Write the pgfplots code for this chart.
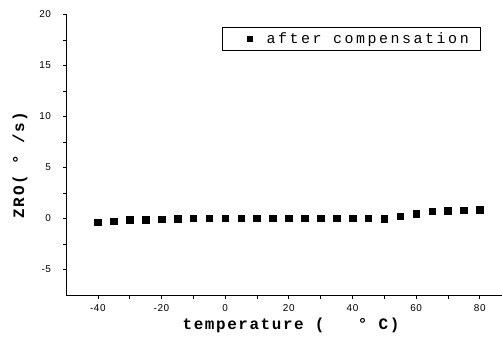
\documentclass[border=0pt]{standalone}
\usepackage{fontspec}
\setmainfont{Liberation Sans}
\newfontfamily\tickfont[LetterSpace=6]{Liberation Sans}
\newfontfamily\legfont[LetterSpace=17]{Liberation Mono}
\newfontfamily\labfont[LetterSpace=10]{Liberation Mono}
\usepackage{pgfplots}
\pgfplotsset{compat=1.18}
\begin{document}
\begin{tikzpicture}
\useasboundingbox (0,0) rectangle (502bp,338bp);
\begin{axis}[
  at={(66bp,43bp)}, anchor=south west,
  scale only axis, width=445.6bp, height=280.5bp,
  xmin=-50, xmax=90, ymin=-7.5, ymax=20,
  axis x line*=bottom, axis y line*=left,
  axis line style={-, line width=0.8pt},
  xtick={-40,-20,...,80}, minor x tick num=1,
  ytick={-5,0,...,20}, minor y tick num=1,
  tick align=outside,
  major tick length=3.5bp, minor tick length=3.5bp,
  tick style={line width=0.6pt, black},
  /pgf/number format/assume math mode=true,
  tick label style={font=\tickfont\fontsize{10}{11}\selectfont},
  xticklabel style={yshift=-2.5bp},
  yticklabel style={xshift=-8bp},
  xlabel={temperature~(~~~°~C)},
  ylabel={ZRO(~°~/s)},
  label style={font=\labfont\bfseries\fontsize{16}{16}\selectfont},
  xlabel style={at={(axis description cs:0.505,-0.11)}, anchor=center},
  ylabel style={at={(axis description cs:-0.103,0.464)}, anchor=center},
  legend style={at={(axis cs:80.4,18.82)}, anchor=north east, draw=black, line width=0.6pt,
    font=\legfont\fontsize{15}{15}\selectfont, inner xsep=1bp, inner ysep=3.5bp},
  legend image code/.code={\path[draw=none] (0,0) -- (41bp,0); \fill[black] (23.5bp,-2.5bp) rectangle (28.5bp,2.5bp);},
]
\addplot[only marks, mark=square*, mark size=3.3bp, black] coordinates {
(-40,-0.36) (-35,-0.25) (-30,-0.14) (-25,-0.10) (-20,-0.05) (-15,-0.02)
(-10,0.03) (-5,0.03) (0,0.03) (5,0.03) (10,0.03) (15,0.03) (20,0.03)
(25,0.03) (30,0.03) (35,0.02) (40,0.02) (45,0.02) (50,-0.04) (55,0.23)
(60,0.45) (65,0.72) (70,0.78) (75,0.82) (80,0.87)
};
\addlegendentry{after compensation\rule{9bp}{0pt}}
\end{axis}
\end{tikzpicture}
\end{document}
